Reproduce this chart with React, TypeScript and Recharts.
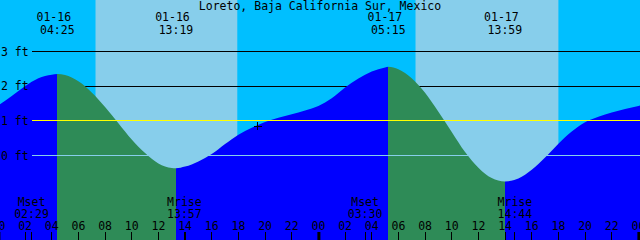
import {
  AreaChart,
  Area,
  XAxis,
  YAxis,
  ReferenceArea,
  ReferenceLine,
  ReferenceDot,
} from "recharts";

const W = 640;
const H = 240;
const FONT = "'DejaVu Sans Mono', monospace";
const FONT_SIZE = 11.5;
const LABEL_GUTTER = 32; // level lines start right of the "3 ft" labels

// colours (xtide defaults)
const NIGHT = "#00BFFF";
const DAY = "#87CEEB";
const FLOOD = "#0000FF";
const EBB = "#2E8B57";
const MSL = "#FFFF00";
const DATUM = "#87CEEB";

const TITLE = "Loreto, Baja California Sur, Mexico";

// tide height (ft), hourly from 01-16 00:00
const sampleHours = [
  0, 1, 2, 3, 4, 5, 6, 7, 8, 9, 10, 11, 12, 13, 14, 15, 16, 17, 18, 19, 20, 21, 22, 23, 24,
  25, 26, 27, 28, 29, 30, 31, 32, 33, 34, 35, 36, 37, 38, 39, 40, 41, 42, 43, 44, 45, 46, 47, 48, 49,
];
const tideFeet = [
  1.45, 1.72, 2.0, 2.23, 2.33, 2.32, 2.14, 1.82, 1.4, 0.93, 0.46, 0.07, -0.23, -0.36, -0.32, -0.17,
  0.04, 0.33, 0.6, 0.8, 0.97, 1.09, 1.19, 1.3, 1.43, 1.65, 1.96, 2.22, 2.42, 2.54, 2.49, 2.23, 1.81,
  1.26, 0.68, 0.1, -0.35, -0.65, -0.75, -0.66, -0.41, -0.06, 0.34, 0.69, 0.96, 1.12, 1.24, 1.34, 1.43,
  1.52,
];

// highs and lows
const extremeDays = [0, 0, 1, 1];
const extremeDates = ["01-16", "01-16", "01-17", "01-17"];
const extremeTimes = ["04:25", "13:19", "05:15", "13:59"];
const extremeFeet = [2.35, -0.37, 2.56, -0.75];
const extremeKinds = ["high", "low", "high", "low"];

// sun
const sunDays = [0, 1];
const sunrise = ["07:17", "07:17"];
const sunset = ["17:55", "18:00"];

// moon
const moonDays = [0, 0, 1, 1];
const moonKinds = ["Mset", "Mrise", "Mset", "Mrise"];
const moonTimes = ["02:29", "13:57", "03:30", "14:44"];

// current time mark
const nowDay = 0;
const nowTime = "19:26";
const nowFeet = 0.84;

const levelTicks = [0, 1, 2, 3];
const hourTicks = [0, 2, 4, 6, 8, 10, 12, 14, 16, 18, 20, 22, 24, 26, 28, 30, 32, 34, 36, 38, 40, 42, 44, 46, 48];

const X_DOMAIN: [number, number] = [0.12, 48.12];
const Y_DOMAIN: [number, number] = [-2.4375, 4.486];

const toHours = (day: number, hhmm: string) => {
  const [h, m] = hhmm.split(":").map(Number);
  return day * 24 + h + m / 60;
};

const extremeHours = extremeTimes.map((t, i) => toHours(extremeDays[i], t));

const rows = [
  ...sampleHours.map((t, i) => ({ t, h: tideFeet[i] })),
  ...extremeHours.map((t, i) => ({ t, h: extremeFeet[i] })),
].sort((a, b) => a.t - b.t);

// gradient stops: ebb (falling) after a high, flood (rising) after a low
const tFirst = rows[0].t;
const tLast = rows[rows.length - 1].t;
const stops: { offset: number; color: string }[] = [];
let current = extremeKinds[0] === "high" ? FLOOD : EBB;
stops.push({ offset: 0, color: current });
extremeHours.forEach((t, i) => {
  const off = (t - tFirst) / (tLast - tFirst);
  stops.push({ offset: off, color: current });
  current = extremeKinds[i] === "high" ? EBB : FLOOD;
  stops.push({ offset: off, color: current });
});
stops.push({ offset: 1, color: current });

const textProps = {
  fontFamily: FONT,
  fontSize: FONT_SIZE,
  fill: "#000",
  textAnchor: "middle" as const,
  dominantBaseline: "central" as const,
};

const levelLine = (color: string) => (p: any) => (
  <line
    x1={Math.min(p.x1, p.x2) + LABEL_GUTTER}
    x2={Math.max(p.x1, p.x2)}
    y1={p.y1}
    y2={p.y2}
    stroke={color}
    strokeWidth={1}
    shapeRendering="crispEdges"
  />
);

const tideLabel = (date: string, time: string) => (p: any) => (
  <g>
    <text {...textProps} x={p.x1 - 3.5} y={17}>
      {date}
    </text>
    <text {...textProps} x={p.x1} y={30}>
      {time}
    </text>
  </g>
);

const moonLabel = (kind: string, time: string) => (p: any) => {
  const bottom = Math.max(p.y1, p.y2);
  return (
    <g>
      <text {...textProps} x={p.x1} y={bottom - 38.5}>
        {kind}
      </text>
      <text {...textProps} x={p.x1} y={bottom - 26.5}>
        {time}
      </text>
      <line x1={p.x1} x2={p.x1} y1={bottom - 8} y2={bottom} stroke="#000" shapeRendering="crispEdges" />
    </g>
  );
};

const NowMark = (p: any) => (
  <g stroke="#000" strokeWidth={1} shapeRendering="crispEdges">
    <line x1={p.cx - 4} x2={p.cx + 4} y1={p.cy} y2={p.cy} />
    <line x1={p.cx} x2={p.cx} y1={p.cy - 4} y2={p.cy + 4} />
  </g>
);

function HourTick(props: any) {
  const { x, payload } = props;
  const hr = payload.value as number;
  const midnight = hr % 24 === 0;
  return (
    <g>
      <text {...textProps} x={x} y={H - 14}>
        {String(hr % 24).padStart(2, "0")}
      </text>
      {midnight ? (
        <rect x={x - 1} y={H - 8} width={3} height={8} fill="#000" />
      ) : (
        <line x1={x} x2={x} y1={H - 8} y2={H} stroke="#000" shapeRendering="crispEdges" />
      )}
    </g>
  );
}

function FeetTick(props: any) {
  const { y, payload } = props;
  return (
    <text {...textProps} textAnchor="start" x={1} y={y}>
      {`${payload.value} ft`}
    </text>
  );
}

export default function App() {
  return (
    <div style={{ position: "absolute", left: 0, top: 0, width: W, height: H, background: NIGHT }}>
      <AreaChart width={W} height={H} data={rows} margin={{ top: 0, right: 0, bottom: 0, left: 0 }}>
        <defs>
          <linearGradient id="tideFill" x1="0" y1="0" x2="1" y2="0">
            {stops.map((s, i) => (
              <stop key={i} offset={s.offset} stopColor={s.color} />
            ))}
          </linearGradient>
        </defs>

        <XAxis
          dataKey="t"
          type="number"
          domain={X_DOMAIN}
          allowDataOverflow
          ticks={hourTicks}
          interval={0}
          height={30}
          mirror
          axisLine={false}
          tickLine={false}
          tick={<HourTick />}
          zIndex={600}
        />
        <YAxis
          type="number"
          domain={Y_DOMAIN}
          allowDataOverflow
          ticks={levelTicks}
          width={40}
          mirror
          axisLine={false}
          tickLine={false}
          tick={<FeetTick />}
          zIndex={600}
        />

        {/* daylight */}
        {sunrise.map((r, i) => (
          <ReferenceArea
            key={`day-${i}`}
            x1={toHours(sunDays[i], r)}
            x2={toHours(sunDays[i], sunset[i])}
            fill={DAY}
            fillOpacity={1}
            stroke="none"
            zIndex={-200}
          />
        ))}

        {/* level lines behind the water */}
        {[2, 3].map((lv) => (
          <ReferenceLine key={`lv-${lv}`} y={lv} stroke="#000" shape={levelLine("#000")} zIndex={-100} />
        ))}

        <Area
          dataKey="h"
          type="monotone"
          baseValue="dataMin"
          stroke="none"
          fill="url(#tideFill)"
          fillOpacity={1}
          dot={false}
          activeDot={false}
          isAnimationActive={false}
          zIndex={100}
        />

        <ReferenceLine y={1} stroke={MSL} shape={levelLine(MSL)} zIndex={400} />
        <ReferenceLine y={0} stroke={DATUM} shape={levelLine(DATUM)} zIndex={400} />

        <ReferenceDot
          x={toHours(nowDay, nowTime)}
          y={nowFeet}
          r={4}
          shape={NowMark}
          zIndex={450}
        />

        {extremeHours.map((t, i) => (
          <ReferenceLine
            key={`tide-${i}`}
            x={t}
            stroke="none"
            shape={tideLabel(extremeDates[i], extremeTimes[i])}
            zIndex={500}
          />
        ))}

        {moonTimes.map((m, i) => (
          <ReferenceLine
            key={`moon-${i}`}
            x={toHours(moonDays[i], m)}
            stroke="#000"
            shape={moonLabel(moonKinds[i], m)}
            zIndex={500}
          />
        ))}
      </AreaChart>
      <div
        style={{
          position: "absolute",
          left: 0,
          top: 0,
          width: W,
          textAlign: "center",
          fontFamily: FONT,
          fontSize: FONT_SIZE,
          lineHeight: "12px",
          color: "#000",
          pointerEvents: "none",
        }}
      >
        {TITLE}
      </div>
    </div>
  );
}
